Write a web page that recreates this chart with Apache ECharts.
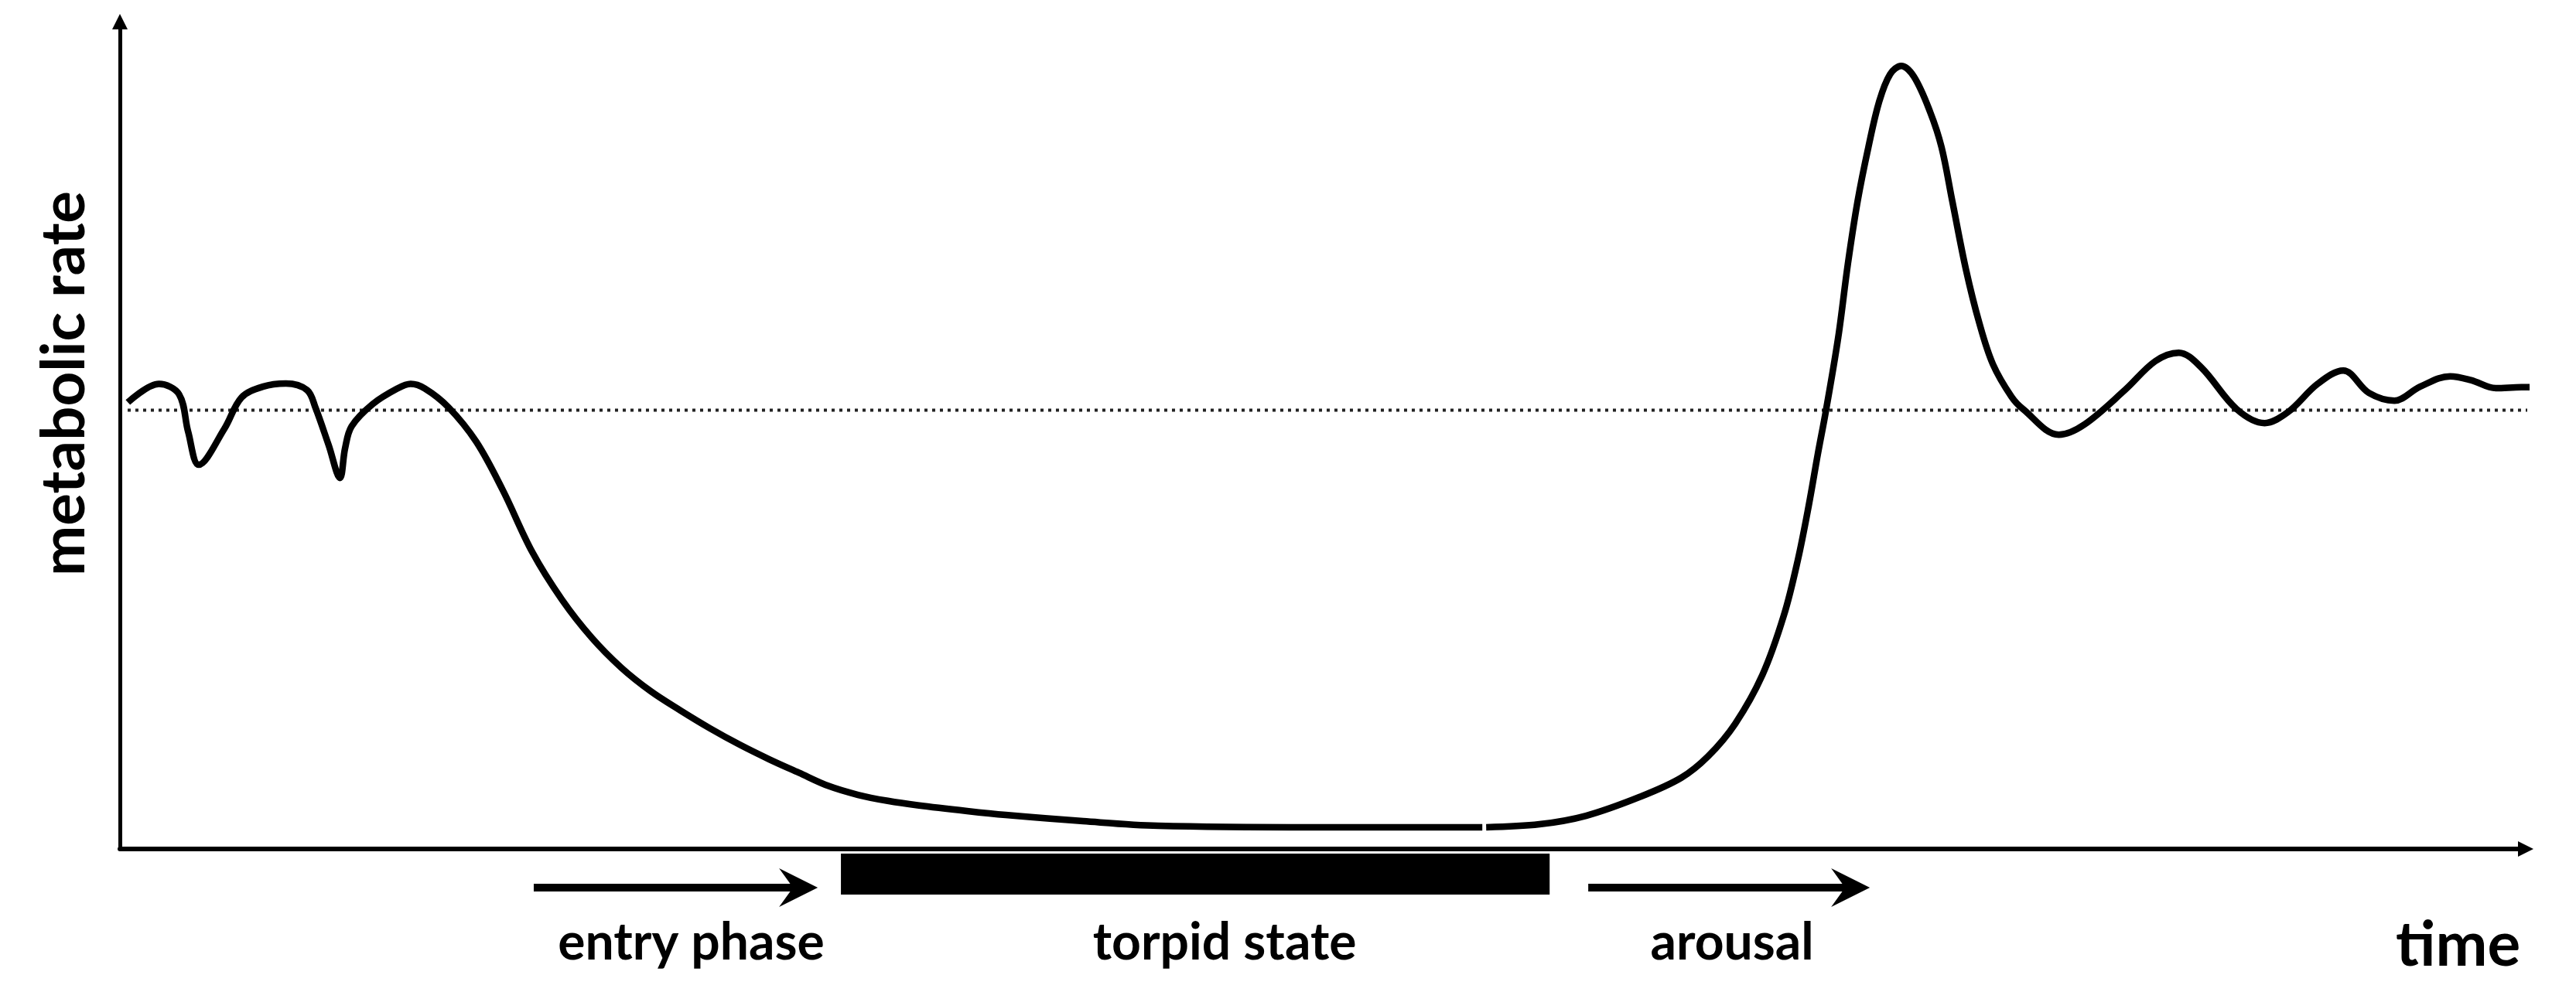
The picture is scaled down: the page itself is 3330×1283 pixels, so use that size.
<!DOCTYPE html>
<html>
<head>
<meta charset="utf-8">
<script src="https://cdn.jsdelivr.net/npm/echarts@6/dist/echarts.min.js"></script>
<style>
html,body{margin:0;padding:0;background:#fff;}
#chart{width:3330px;height:1283px;}
</style>
</head>
<body>
<div id="chart"></div>
<script>
// ---- data (time in arbitrary units 0..100, metabolic rate in arbitrary units) ----
const timeVals = [0.33,1.62,2.45,2.83,3.27,4.33,5.04,5.92,6.88,7.76,8.10,8.65,9.12,9.33,9.60,10.48,11.51,12.05,12.63,13.62,14.77,
  15.87,17.09,18.32,19.56,20.78,22.0,23.24,24.46,25.68,26.91,28.14,29.37,30.59,31.82,33.06,35.11,36.71,39.92,43.03,49.53,56.46,
  56.54,
  56.62,58.83,60.76,63.0,64.70,65.82,66.94,68.07,68.96,69.53,69.98,70.37,70.70,71.21,71.61,72.01,72.46,72.91,73.36,73.82,74.35,
  75.02,75.49,75.94,76.50,77.06,77.62,78.39,78.87,80.35,81.40,83.10,84.35,85.32,86.25,87.72,88.88,89.84,91.09,92.14,93.20,94.26,
  95.32,96.57,97.43,98.46,99.52,100.8];
const rateVals = [53.49,55.71,54.47,49.95,46.02,50.34,54.08,55.37,55.75,54.96,52.90,48.38,44.44,47.98,50.62,53.30,55.17,55.71,55.17,52.90,48.77,
  42.96,35.56,29.86,25.28,21.71,18.89,16.57,14.44,12.5,10.74,9.13,7.54,6.48,5.76,5.23,4.54,4.07,3.33,2.78,2.6,2.6,
  null,
  2.6,2.96,3.98,6.25,8.52,11.11,15.0,20.86,28.01,34.54,41.02,47.4,52.5,61.3,70.09,77.55,84.07,89.56,92.81,93.8,92.5,
  88.27,84.07,77.55,69.44,62.96,58.06,54.17,52.69,49.63,50.83,55.0,58.43,59.44,57.69,52.69,51.02,52.31,55.74,57.31,54.63,53.70,
  55.37,56.62,56.16,55.19,55.32,55.19];
const baselineTime = [0.32, 100.8];
const baselineRate = [52.55, 52.55];
const phaseNames = ['entry phase', 'torpid state', 'arousal'];
const phaseStart = [17.15, 29.88, 60.85];
const phaseEnd   = [28.92, 59.25, 72.52];
const phaseKind  = ['arrow', 'bar', 'arrow'];
const xAxisTitle = 'time';
const yAxisTitle = 'metabolic rate';

// ---- styling (label nudges in px, not data) ----
const labelDx = [20, 38, 4];
const FONT = 'Lato';

// ---- build ----
const curveData = timeVals.map((t, i) => [t, rateVals[i] == null ? '-' : rateVals[i]]);
const baselineData = baselineTime.map((t, i) => [t, baselineRate[i]]);
const phaseData = phaseNames.map((n, i) => [phaseStart[i], phaseEnd[i], i]);

const chart = echarts.init(document.getElementById('chart'), null, {renderer: 'canvas'});

const axisCommon = {
  type: 'value',
  axisTick: {show: false},
  axisLabel: {show: false},
  splitLine: {show: false},
  nameMoveOverlap: false
};

chart.setOption({
  animation: false,
  backgroundColor: '#ffffff',
  grid: {left: 155, right: 65, top: 28, bottom: 185, containLabel: false, outerBoundsMode: 'none'},
  graphic: [{
    type: 'text', x: 3097, y: 1223, silent: true,
    style: {text: xAxisTitle, fontFamily: FONT, fontWeight: 'bold', fontSize: 80, fill: '#000',
      align: 'left', verticalAlign: 'middle'}
  }],
  xAxis: Object.assign({}, axisCommon, {
    min: 0, max: 99.7,
    axisLine: {show: true, onZero: false, symbol: ['none', 'triangle'], symbolSize: [20, 20],
      lineStyle: {color: '#000', width: 6}}
  }),
  yAxis: Object.assign({}, axisCommon, {
    min: 0, max: 99.1,
    axisLine: {show: true, onZero: false, symbol: ['none', 'triangle'], symbolSize: [20, 20],
      lineStyle: {color: '#000', width: 5}},
    name: yAxisTitle,
    nameLocation: 'middle',
    nameRotate: 90,
    nameGap: 32,
    nameTextStyle: {fontFamily: FONT, fontWeight: 'bold', fontSize: 78, lineHeight: 78, color: '#000',
      padding: [0, 0, 0, 134]}
  }),
  series: [
    {
      name: 'baseline', type: 'line', data: baselineData, clip: false,
      symbol: 'none', silent: true, z: 2,
      lineStyle: {color: '#222', width: 4, type: [4, 6], cap: 'butt'}
    },
    {
      name: 'metabolic rate', type: 'line', data: curveData, clip: false,
      symbol: 'none', smooth: 0.35, connectNulls: false, z: 3,
      lineStyle: {color: '#000', width: 8.5, cap: 'butt', join: 'round'}
    },
    {
      name: 'phases', type: 'custom', data: phaseData, clip: false, silent: true, z: 4,
      encode: {x: [0, 1]},
      renderItem: function (params, api) {
        const i = api.value(2);
        const p0 = api.coord([api.value(0), 0]);
        const p1 = api.coord([api.value(1), 0]);
        const axisY = p0[1];
        const children = [];
        if (phaseKind[i] === 'bar') {
          children.push({type: 'rect', shape: {x: p0[0], y: axisY + 6, width: p1[0] - p0[0], height: 53},
            style: {fill: '#000'}});
        } else {
          const y = axisY + 50;
          children.push({type: 'rect', shape: {x: p0[0], y: y - 5, width: p1[0] - p0[0] - 30, height: 10},
            style: {fill: '#000'}});
          children.push({type: 'polygon', shape: {points: [[p1[0], y], [p1[0] - 50, y - 25], [p1[0] - 32, y], [p1[0] - 50, y + 25]]},
            style: {fill: '#000'}});
        }
        children.push({type: 'text', x: (p0[0] + p1[0]) / 2 + labelDx[i], y: axisY + 122,
          style: {text: phaseNames[i], fontFamily: FONT, fontWeight: 'bold', fontSize: 66,
            fill: '#000', align: 'center', verticalAlign: 'middle'}});
        return {type: 'group', children: children};
      }
    }
  ]
});
</script>
</body>
</html>
